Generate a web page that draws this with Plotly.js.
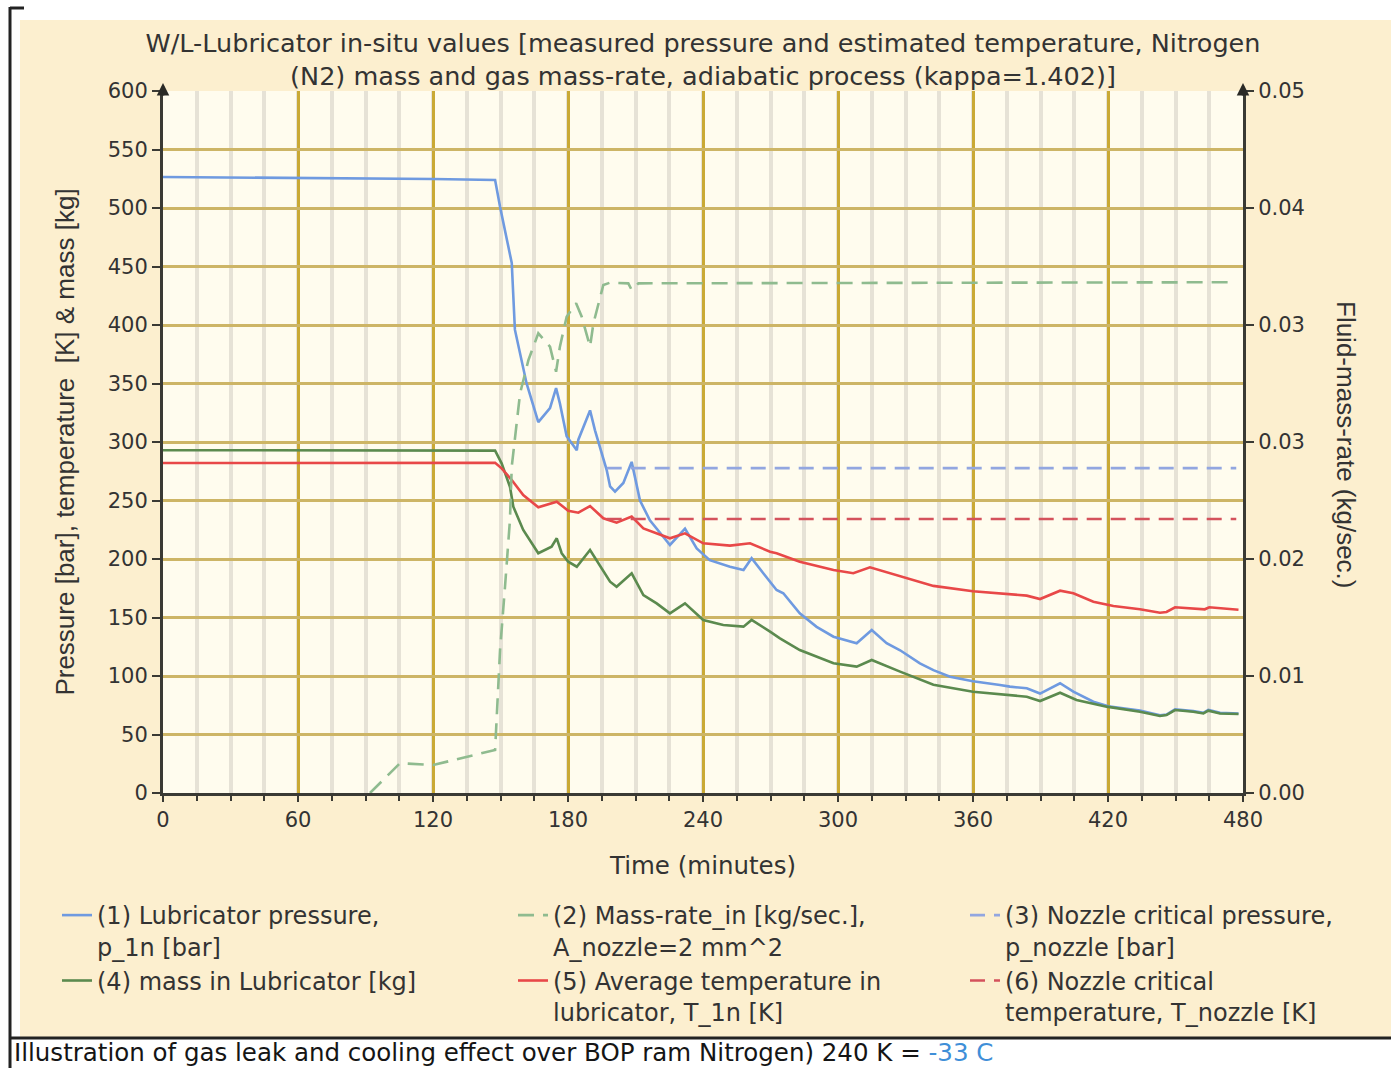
<!DOCTYPE html>
<html><head><meta charset="utf-8">
<script src="https://cdn.plot.ly/plotly-3.0.1.min.js"></script>
<style>html,body{margin:0;padding:0;background:#ffffff;}#chart{width:1391px;height:1068px;}</style>
</head><body><div id="chart"></div>
<script>
// ---------- data ----------
// (1) Lubricator pressure [bar]
const pressureTime = [0, 60, 120, 147.6, 149.8, 155, 156.4, 161.6, 166.8, 172, 174.7, 176.4, 179.4, 183.9, 184.6, 189.8, 192, 197.2, 198.7, 200.9, 204.6, 208.3, 212, 216.4, 225.3, 232, 237.2, 243, 252, 258, 261.6, 266.8, 272.7, 275.7, 283, 290.5, 298, 308.3, 315, 321.6, 327.6, 336.4, 342.4, 349.8, 360, 372, 376.4, 383.9, 389.8, 398.7, 404.6, 413.5, 420.9, 434.2, 443.1, 446, 449.8, 457.9, 462.4, 464.6, 469.8, 478];
const pressureBar  = [526.5, 525.8, 524.8, 524, 501, 453, 396, 350, 317, 329, 346, 333, 305, 293, 302, 327, 310, 276, 262, 257.5, 265, 283, 250, 233, 212, 226, 209, 199, 193.4, 190.6, 200.6, 187.8, 173.5, 170.7, 153.6, 142, 133.6, 128, 139.3, 128, 122, 110.8, 105, 99.4, 95.5, 92.3, 90.9, 89.5, 85, 93.8, 86.6, 78, 73.8, 70.5, 66.5, 67, 71.5, 70, 68.5, 71, 68.5, 68];

// (2) Mass-rate in [kg/sec.]
const rateTime = [92, 105.3, 120.1, 147.6, 149.8, 151.3, 152, 154.2, 155, 158.7, 162.4, 166.8, 172, 174.7, 176.4, 179.4, 183.6, 186.1, 189.8, 191.3, 195.7, 198.7, 206.8, 208.3, 211.3, 477];
const rateKgs  = [0, 0.00212, 0.00199, 0.00307, 0.01018, 0.01375, 0.01469, 0.01944, 0.02325, 0.02847, 0.03083, 0.03274, 0.03179, 0.03000, 0.03179, 0.03392, 0.03488, 0.03392, 0.03179, 0.03345, 0.03618, 0.03635, 0.03630, 0.03583, 0.03630, 0.03638];

// (3) Nozzle critical pressure [bar]
const nozzlePTime = [197.2, 477];
const nozzlePBar  = [277.7, 277.7];

// (4) mass in Lubricator [kg]
const massTime = [0, 60, 120, 147.6, 150.5, 154.2, 155.7, 160.1, 166.8, 172.7, 175, 177.2, 180.1, 183.9, 189.8, 192.7, 198.7, 201.6, 208.3, 213.5, 219.4, 225.3, 232, 240.1, 249, 258, 261.6, 269.8, 274.2, 283, 298, 308.3, 315, 327.6, 342.4, 360, 376.4, 383.9, 389.8, 398.7, 406, 419.4, 434.2, 443.1, 446, 449.8, 457.9, 462.4, 464.6, 469.8, 478];
const massKg   = [293, 293, 293, 292.6, 281.8, 261.8, 244.7, 224.8, 204.9, 210.5, 217.7, 204.9, 197.7, 193.4, 207.7, 199.1, 180.6, 176.3, 187.8, 169.2, 162.1, 153.6, 162.1, 147.9, 143.6, 142.2, 147.9, 137.9, 132.2, 122.2, 110.9, 108, 113.7, 103.7, 92.5, 86.6, 83.8, 82.3, 78.6, 85.7, 79.5, 73.8, 69.5, 65.8, 66.6, 70.9, 69.5, 68, 70.4, 68, 67.5];

// (5) Average temperature in lubricator [K]
const tempTime = [0, 60, 120, 147.6, 150.5, 155, 160.1, 166.8, 175, 180.1, 184.6, 189.8, 195.7, 201.6, 208.3, 213.5, 225.3, 232, 240.1, 252, 260.9, 269.8, 272.7, 283, 298, 306.8, 314.2, 327.6, 342.4, 360, 376.4, 383.9, 389.8, 398.7, 404.6, 413.5, 422.4, 434.2, 443.1, 446, 449.8, 457.9, 463, 465, 478];
const tempK    = [282, 282, 282, 282.3, 277.5, 267.5, 254.7, 244.2, 249, 241.3, 239.6, 245.3, 234.8, 231, 236.2, 226.2, 217.7, 221.9, 213.4, 211.4, 213.4, 206.2, 204.9, 197.7, 190.6, 187.8, 192.9, 185.5, 177, 172.5, 170.1, 168.7, 165.8, 172.9, 170.7, 163.5, 159.8, 157, 154.1, 154.7, 158.7, 158, 157, 158.7, 156.6];

// (6) Nozzle critical temperature [K]
const nozzleTTime = [197.2, 477];
const nozzleTK    = [234.2, 234.2];

// ticks
const timeTickVals = [0, 60, 120, 180, 240, 300, 360, 420, 480];
const leftTickVals = [0, 50, 100, 150, 200, 250, 300, 350, 400, 450, 500, 550, 600];
const rateTickVals = [0, 0.008333, 0.016667, 0.025, 0.033333, 0.041667, 0.05];
const rateTickText = ['0.00', '0.01', '0.02', '0.03', '0.03', '0.04', '0.05'];

const names = [
  '(1) Lubricator pressure,<br>p_1n [bar]',
  '(2) Mass-rate_in [kg/sec.],<br>A_nozzle=2 mm^2',
  '(3) Nozzle critical pressure,<br>p_nozzle [bar]',
  '(4) mass in Lubricator [kg]',
  '(5) Average temperature in<br>lubricator, T_1n [K]',
  '(6) Nozzle critical<br>temperature, T_nozzle [K]'
];

// ---------- layout helpers (pixel -> paper) ----------
const W = 1391, H = 1068;
const L = 163, R = 1243, T = 91, B = 793;
const px = v => (v - L) / (R - L);
const py = v => (B - v) / (B - T);

const FONT = 'DejaVu Sans';
const TXT = '#333333';

const traces = [
  {x: pressureTime, y: pressureBar, name: names[0], mode: 'lines', legend: 'legend',
   line: {color: '#6f9ae0', width: 2.6}},
  {x: massTime, y: massKg, name: names[3], mode: 'lines', legend: 'legend',
   line: {color: '#5b8a4e', width: 2.6}},
  {x: rateTime, y: rateKgs, name: names[1], mode: 'lines', legend: 'legend2', yaxis: 'y2',
   line: {color: '#8fbb8f', width: 2.6, dash: '16px,9px'}},
  {x: tempTime, y: tempK, name: names[4], mode: 'lines', legend: 'legend2',
   line: {color: '#e84848', width: 2.6}},
  {x: nozzlePTime, y: nozzlePBar, name: names[2], mode: 'lines', legend: 'legend3',
   line: {color: '#92a6e0', width: 2.6, dash: '15px,9px'}},
  {x: nozzleTTime, y: nozzleTK, name: names[5], mode: 'lines', legend: 'legend3',
   line: {color: '#d4525c', width: 2.6, dash: '15px,9px'}}
];

const legendCommon = {
  orientation: 'v', xanchor: 'left', yanchor: 'top', valign: 'top',
  bgcolor: 'rgba(0,0,0,0)', borderwidth: 0,
  font: {family: FONT, size: 24, color: TXT}, tracegroupgap: 0
};

const layout = {
  width: W, height: H, autosize: false,
  margin: {l: L, r: W - R, t: T, b: H - B, pad: 0},
  paper_bgcolor: '#fcefcf',
  plot_bgcolor: '#fffcee',
  showlegend: true,
  title: {
    text: 'W/L-Lubricator in-situ values [measured pressure and estimated temperature, Nitrogen<br>(N2) mass and gas mass-rate, adiabatic process (kappa=1.402)]',
    font: {family: FONT, size: 25.5, color: TXT},
    xref: 'paper', x: 0.5, xanchor: 'center',
    yref: 'container', y: 1 - 52 / H, yanchor: 'top'
  },
  xaxis: {
    range: [0, 480], tickvals: timeTickVals, automargin: false,
    showline: true, linecolor: '#3a3a34', linewidth: 3, zeroline: false,
    ticks: 'outside', ticklen: 6, tickwidth: 2, tickcolor: '#3a3a34',
    tickfont: {family: FONT, size: 21, color: TXT},
    showgrid: true, gridcolor: '#c9a935', gridwidth: 3,
    minor: {dtick: 15, tick0: 0, showgrid: true, gridcolor: '#e6e2d6', gridwidth: 3.5,
            ticks: 'outside', ticklen: 5, tickwidth: 2, tickcolor: '#3a3a34'},
    title: {text: 'Time (minutes)', font: {family: FONT, size: 24.5, color: TXT}, standoff: 26}
  },
  yaxis: {
    range: [0, 600], tickvals: leftTickVals, automargin: false,
    showline: true, linecolor: '#3a3a34', linewidth: 3, zeroline: false,
    ticks: 'outside', ticklen: 8, tickwidth: 2, tickcolor: '#3a3a34',
    tickfont: {family: FONT, size: 21, color: TXT},
    showgrid: true, gridcolor: '#cdb566', gridwidth: 3,
    title: {text: 'Pressure [bar], temperature  [K] & mass [kg]',
            font: {family: 'Liberation Sans', size: 26, color: TXT}, standoff: 26}
  },
  yaxis2: {
    overlaying: 'y', side: 'right', range: [0, 0.05], automargin: false,
    tickvals: rateTickVals, ticktext: rateTickText,
    showline: true, linecolor: '#3a3a34', linewidth: 3, zeroline: false,
    ticks: 'outside', ticklen: 8, tickwidth: 2, tickcolor: '#3a3a34',
    tickfont: {family: FONT, size: 21, color: TXT},
    showgrid: false
  },
  legend:  Object.assign({}, legendCommon, {x: px(57),  y: py(893)}),
  legend2: Object.assign({}, legendCommon, {x: px(513), y: py(893)}),
  legend3: Object.assign({}, legendCommon, {x: px(965), y: py(893)}),
  shapes: [
    // white page areas around the beige panel
    {type: 'rect', xref: 'paper', yref: 'paper', x0: px(0), x1: px(W), y0: py(0), y1: py(20),
     fillcolor: '#ffffff', line: {width: 0}, layer: 'below'},
    {type: 'rect', xref: 'paper', yref: 'paper', x0: px(0), x1: px(20), y0: py(0), y1: py(H),
     fillcolor: '#ffffff', line: {width: 0}, layer: 'below'},
    {type: 'rect', xref: 'paper', yref: 'paper', x0: px(0), x1: px(W), y0: py(1037), y1: py(H),
     fillcolor: '#ffffff', line: {width: 0}, layer: 'below'},
    // black frame lines
    {type: 'line', xref: 'paper', yref: 'paper', x0: px(10), x1: px(10), y0: py(7), y1: py(H),
     line: {color: '#222222', width: 3}},
    {type: 'line', xref: 'paper', yref: 'paper', x0: px(10), x1: px(24), y0: py(8), y1: py(8),
     line: {color: '#222222', width: 3}},
    {type: 'line', xref: 'paper', yref: 'paper', x0: px(10), x1: px(W), y0: py(1038), y1: py(1038),
     line: {color: '#222222', width: 3}}
  ],
  annotations: [
    {text: 'Fluid-mass-rate (kg/sec.)', textangle: 90, showarrow: false,
     xref: 'paper', yref: 'paper', x: px(1346), y: py(445), xanchor: 'center', yanchor: 'middle',
     font: {family: 'Liberation Sans', size: 26, color: TXT}},
    {text: 'Illustration of gas leak and cooling effect over BOP ram Nitrogen) 240 K = <span style="color:#3f8fd8">-33 C</span>',
     showarrow: false, xref: 'paper', yref: 'paper', x: px(13), y: py(1052.5),
     xanchor: 'left', yanchor: 'middle', borderpad: 0,
     font: {family: FONT, size: 24.5, color: '#151515'}},
    // arrow heads at the top of both value axes
    {text: '', xref: 'x', yref: 'paper', x: 0, y: py(83), showarrow: true,
     ax: 0, ay: 14, arrowhead: 2, arrowsize: 1, arrowwidth: 2.5, arrowcolor: '#2a2a26', standoff: 0},
    {text: '', xref: 'x', yref: 'paper', x: 480, y: py(83), showarrow: true,
     ax: 0, ay: 14, arrowhead: 2, arrowsize: 1, arrowwidth: 2.5, arrowcolor: '#2a2a26', standoff: 0}
  ]
};

Plotly.newPlot('chart', traces, layout, {displayModeBar: false, responsive: false});
</script>
</body></html>
